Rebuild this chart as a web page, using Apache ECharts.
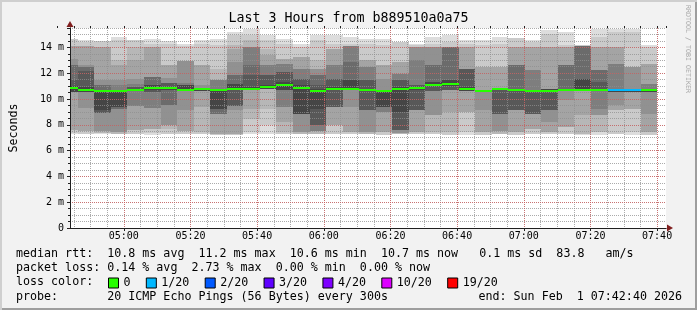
<!DOCTYPE html>
<html><head><meta charset="utf-8">
<script src="https://cdn.jsdelivr.net/npm/echarts@6/dist/echarts.min.js"></script>
<style>
html,body{margin:0;padding:0;background:#f2f2f2;}
#wrap{position:relative;width:697px;height:310px;overflow:hidden;}
#chart{position:absolute;left:0;top:0;width:697px;height:310px;}
.b{position:absolute;pointer-events:none;}
</style></head><body>
<div id="wrap"><div id="chart"></div>
<div class="b" style="left:0;top:0;width:697px;height:2px;background:#cfcfcf"></div>
<div class="b" style="left:0;top:0;width:2px;height:310px;background:#cfcfcf"></div>
<div class="b" style="left:695px;top:2px;width:2px;height:308px;background:#9e9e9e"></div>
<div class="b" style="left:2px;top:308px;width:695px;height:2px;background:#9e9e9e"></div>
</div>
<script>
// ---- data ----
const titleText = 'Last 3 Hours from b889510a0a75';
const startTime = '04:42:40';
const endTime = '07:42:40';
const gridStartTime = '04:40';
const timeLabels = ['04:45','04:50','04:55','05:00','05:05','05:10','05:15','05:20','05:25','05:30','05:35','05:40',
  '05:45','05:50','05:55','06:00','06:05','06:10','06:15','06:20','06:25','06:30','06:35','06:40',
  '06:45','06:50','06:55','07:00','07:05','07:10','07:15','07:20','07:25','07:30','07:35','07:40'];
// 20 sorted ping times (ms) per 5-minute step
const pings = [
 [7.25,7.40,7.58,7.58,10.55,10.55,10.55,10.55,10.55,10.75,10.95,11.01,11.45,12.66,12.66,13.12,14.10,14.10,14.67,14.67],
 [7.32,7.32,7.50,7.50,9.31,10.55,10.55,10.55,10.55,10.63,10.73,10.93,12.14,12.48,12.48,12.66,14.10,14.10,14.41,14.54],
 [7.25,7.40,7.40,7.50,7.50,8.95,8.95,8.95,9.13,10.57,10.67,10.67,10.67,11.06,11.06,11.45,14.03,14.03,14.46,14.46],
 [7.25,7.32,7.32,7.45,7.45,9.26,9.26,9.39,9.39,10.57,10.67,10.67,10.67,10.67,11.06,11.45,12.61,12.99,14.54,14.80],
 [7.25,7.25,7.58,7.58,9.46,9.46,10.60,10.60,10.60,10.68,10.78,10.80,10.93,10.93,11.19,11.58,12.99,14.03,14.54,14.54],
 [7.20,7.40,7.66,7.66,9.31,9.31,10.55,10.55,10.70,10.78,10.88,11.06,11.06,11.71,11.71,11.71,14.03,14.03,14.28,14.62],
 [7.32,7.32,7.66,8.02,8.02,9.52,9.52,10.73,10.73,10.78,10.88,10.88,11.27,11.27,11.27,11.63,12.66,12.66,14.28,14.46],
 [7.32,7.32,7.50,7.50,9.13,10.60,10.60,10.60,10.60,10.65,10.75,11.06,11.06,11.06,11.27,12.92,12.92,12.92,14.10,14.28],
 [7.25,7.25,7.45,9.39,10.65,10.65,10.65,10.65,10.65,10.70,10.80,10.86,10.86,10.86,10.86,11.06,12.61,12.61,14.28,14.54],
 [7.20,7.20,7.32,7.32,8.87,8.87,8.87,9.26,9.26,10.63,10.75,10.75,10.75,10.75,11.45,11.45,11.45,12.35,14.15,14.67],
 [7.20,7.20,7.32,7.32,9.13,9.46,9.46,9.46,10.68,10.72,10.83,11.19,11.19,11.84,11.84,12.87,13.90,14.15,14.98,15.19],
 [7.25,7.45,8.43,9.26,10.68,10.68,10.68,10.68,10.68,10.72,10.83,10.90,11.84,12.61,14.03,14.03,14.03,14.54,14.98,15.44],
 [7.32,7.97,9.26,10.75,10.75,10.75,10.75,10.75,10.75,10.86,10.96,11.06,11.84,11.84,12.61,12.61,13.38,13.90,14.54,14.93],
 [7.25,7.25,7.45,8.23,9.39,9.39,10.68,10.68,10.68,11.05,11.17,11.32,12.09,12.09,12.74,12.74,13.12,13.12,14.28,14.67],
 [7.25,7.25,7.25,7.45,7.45,8.87,8.87,8.87,8.87,10.80,10.91,11.06,11.58,11.58,12.35,12.35,13.25,13.25,14.03,14.28],
 [7.25,7.25,7.25,7.50,7.50,7.50,7.97,7.97,9.26,10.60,10.70,10.80,11.06,11.84,11.84,12.35,12.35,12.99,14.54,14.93],
 [7.32,7.32,7.97,7.97,9.39,9.39,9.39,9.39,10.68,10.75,10.85,10.90,11.58,11.58,12.61,12.61,13.90,13.90,14.28,14.93],
 [7.25,7.25,7.45,7.45,9.39,10.68,10.68,10.68,10.68,10.72,10.83,11.45,11.45,12.87,14.10,14.10,14.10,14.10,14.28,14.80],
 [7.25,7.25,7.25,7.45,7.45,9.13,9.13,9.13,10.60,10.65,10.75,10.78,11.45,11.45,12.48,12.48,12.99,12.99,14.28,14.67],
 [7.20,7.20,7.45,7.45,9.00,9.00,9.39,9.39,9.39,10.60,10.70,10.72,10.72,10.72,10.72,11.58,12.61,12.61,14.15,14.67],
 [7.25,7.25,7.25,7.40,7.40,7.58,7.58,7.58,9.00,10.75,10.85,10.93,11.45,11.45,11.96,11.96,12.87,12.87,14.41,14.41],
 [7.32,7.32,7.45,7.45,9.13,9.13,9.13,9.13,10.73,10.78,10.88,10.91,11.06,11.06,12.99,14.03,14.03,14.03,14.15,14.28],
 [7.25,7.25,7.45,8.74,8.74,10.60,10.60,10.60,11.01,11.05,11.17,11.32,11.32,12.61,12.61,14.03,14.03,14.03,14.28,14.80],
 [7.20,7.20,7.45,9.00,10.68,10.68,10.68,10.68,11.01,11.08,11.20,11.45,11.45,14.03,14.03,14.03,14.03,14.03,14.41,14.93],
 [7.20,7.45,9.00,9.00,10.65,10.65,10.65,10.65,10.65,10.72,10.83,10.93,12.35,12.35,12.35,12.35,14.03,14.03,14.28,14.54],
 [7.20,7.20,7.45,7.45,9.13,10.55,10.55,10.55,10.55,10.60,10.70,10.70,10.70,10.70,10.70,10.70,12.48,12.48,14.15,14.54],
 [7.25,7.25,7.25,7.50,7.50,8.87,8.87,8.87,10.68,10.72,10.83,10.85,10.85,10.85,10.85,10.85,12.48,12.48,14.28,14.80],
 [7.20,7.20,7.45,7.45,9.13,9.13,9.13,9.13,10.60,10.68,10.78,10.80,10.80,12.61,12.61,12.61,14.03,14.03,14.72,14.72],
 [7.32,7.32,7.71,7.71,8.87,8.87,8.87,8.87,10.55,10.58,10.67,10.70,10.70,10.70,12.22,12.22,14.03,14.03,14.41,14.54],
 [7.25,7.25,7.45,7.45,8.23,9.13,9.13,9.13,10.55,10.58,10.67,10.80,10.80,10.80,10.80,10.80,14.03,14.03,15.06,15.31],
 [7.25,7.32,7.84,7.84,9.90,10.60,10.60,10.60,10.60,10.65,10.75,10.78,10.78,12.61,12.61,12.61,14.03,14.03,14.15,15.19],
 [7.20,7.25,7.25,8.74,10.60,10.60,10.60,10.60,10.60,10.65,10.75,11.58,11.58,14.10,14.10,14.10,14.10,14.10,14.21,14.21],
 [7.20,7.45,7.45,8.74,8.74,9.26,10.60,10.60,10.60,10.65,10.75,10.78,11.32,12.22,12.22,12.22,14.03,14.03,14.80,15.44],
 [7.25,7.32,9.13,9.13,9.57,10.55,10.55,10.55,10.55,10.60,10.75,10.78,10.78,10.78,12.74,12.74,14.03,14.03,15.19,15.44],
 [7.20,7.45,9.26,9.26,10.55,10.55,10.55,10.55,10.55,10.60,10.75,10.78,10.78,10.78,10.78,12.48,12.48,12.48,15.19,15.44],
 [7.20,7.20,7.45,7.45,8.87,10.55,10.55,10.55,10.55,10.60,10.75,10.78,10.78,10.78,11.19,11.19,12.74,12.74,14.03,14.15]
];
const medians = [10.86,10.68,10.62,10.62,10.73,10.83,10.83,10.70,10.75,10.70,10.78,10.78,10.91,11.11,10.86,10.65,10.80,10.78,
  10.70,10.65,10.80,10.83,11.11,11.14,10.78,10.65,10.78,10.73,10.62,10.62,10.70,10.70,10.70,10.68,10.68,10.68];
const losses = [0,0,0,0,0,0,0,0,0,0,0,0,0,0,0,0,0,0,0,0,0,0,0,0,0,0,0,0,0,0,0,0,0,1,1,0];
const lossLevels = [0,1,2,3,4,10,19];
const lossLabels = ['0','1/20','2/20','3/20','4/20','10/20','19/20'];
const lossColors = ['#26ff00','#00b8ff','#0059ff','#5e00ff','#7e00ff','#dd00ff','#ff0000'];
const yTicks = [0,2,4,6,8,10,12,14];
const statsLine1 = 'median rtt:  10.8 ms avg  11.2 ms max  10.6 ms min  10.7 ms now   0.1 ms sd  83.8   am/s';
const statsLine2 = 'packet loss: 0.14 % avg  2.73 % max  0.00 % min  0.00 % now';
const lossLine = 'loss color:';
const probeLine = 'probe:       20 ICMP Echo Pings (56 Bytes) every 300s';
const endLine = 'end: Sun Feb  1 07:42:40 2026';
const watermark = 'RRDTOOL / TOBI OETIKER';

// ---- helpers ----
const STEP = 5; // minutes per probe step
function toMin(s) { const p = s.split(':').map(Number); return p[0] * 60 + p[1] + (p[2] || 0) / 60; }
const xMin = toMin(startTime), xMax = toMin(endTime), gMin = toMin(gridStartTime);
const pad = n => (n < 10 ? '0' : '') + n;
const fmtMin = v => pad(Math.floor(v / 60)) + ':' + pad(Math.round(v % 60));
const MONO = '"DejaVu Sans Mono", monospace';
const smokeGrays = ['#dddddd','#cacaca','#b7b7b7','#a4a4a4','#919191','#7e7e7e','#6b6b6b','#585858','#454545','#323232'];
const minorGrid = 'rgba(143,143,143,0.75)';
const majorGrid = 'rgba(222,79,79,0.6)';

function levelIndex(l) { let idx = 0; lossLevels.forEach((lv, i) => { if (l >= lv) idx = i; }); return idx; }

const smokeData = timeLabels.map((t, i) => [toMin(t) - STEP, toMin(t)].concat(pings[i]));
function colX(api, t) { return Math.round(api.coord([Math.max(t, xMin), 0])[0]); }

const smokeSeries = {
  type: 'custom', name: 'smoke', z: 2, silent: true, xAxisIndex: 0, yAxisIndex: 0,
  data: smokeData,
  encode: { x: [0, 1], y: [2] },
  renderItem(params, api) {
    const x0 = colX(api, api.value(0)), x1 = colX(api, api.value(1));
    const children = [];
    for (let k = 0; k < 10; k++) {
      const lo = api.value(2 + k), hi = api.value(21 - k);
      const y0 = Math.round(api.coord([xMin, lo])[1]);
      const y1 = Math.round(api.coord([xMin, hi])[1]);
      if (y0 - y1 <= 0) continue;
      children.push({ type: 'rect', shape: { x: x0, y: y1, width: x1 - x0, height: y0 - y1 },
        style: { fill: smokeGrays[k] } });
    }
    return { type: 'group', children };
  }
};

const medianSeries = lossLabels.map((name, li) => ({
  type: 'custom', name, z: 10, silent: true, xAxisIndex: 0, yAxisIndex: 0,
  itemStyle: { color: lossColors[li] },
  data: timeLabels.map((t, i) => [toMin(t) - STEP, toMin(t), medians[i], levelIndex(losses[i])])
    .filter(d => d[3] === li),
  encode: { x: [0, 1], y: [2] },
  renderItem(params, api) {
    const x0 = colX(api, api.value(0)), x1 = colX(api, api.value(1));
    const y = Math.round(api.coord([xMin, api.value(2)])[1]);
    return { type: 'rect', shape: { x: x0, y: y - 1, width: x1 - x0, height: 2 },
      style: { fill: lossColors[li] } };
  }
}));

const chart = echarts.init(document.getElementById('chart'), null, { renderer: 'canvas' });
const axisFont = { fontFamily: MONO, fontSize: 10, color: '#000' };
const PXPM = 600 / (xMax - xMin);
const gridB_left = 66 - (xMin - gMin) * PXPM;
chart.setOption({
  backgroundColor: 'transparent',
  animation: false,
  title: { text: titleText, left: 'center', top: 12, padding: 0,
    textStyle: { fontFamily: MONO, fontSize: 13.3, fontWeight: 'normal', color: '#000' } },
  grid: [
    { left: 66, right: 31, top: 28, bottom: 82, show: true, backgroundColor: '#ffffff', borderWidth: 0 },
    { left: gridB_left, right: 31, top: 28, bottom: 82, show: false }
  ],
  legend: {
    left: 108, top: 277, padding: 0, itemWidth: 10, itemHeight: 10, itemGap: 15.3, icon: 'rect',
    selectedMode: false, data: lossLabels,
    itemStyle: { borderColor: '#000', borderWidth: 1 },
    textStyle: { fontFamily: MONO, fontSize: 11.67, color: '#000', padding: 0 }
  },
  xAxis: [
    { gridIndex: 0, type: 'value', min: xMin, max: xMax, z: 8,
      axisLine: { show: true, lineStyle: { color: '#1f1f1f', width: 1 } },
      axisTick: { show: false }, axisLabel: { show: false }, splitLine: { show: false } },
    { gridIndex: 0, type: 'value', min: xMin, max: xMax, z: 7.5,
      axisLine: { show: true, symbol: ['none', 'triangle'], symbolSize: [7, 6], symbolOffset: [0, 4],
        lineStyle: { color: '#801f1f', width: 1 } },
      axisTick: { show: false }, axisLabel: { show: false }, splitLine: { show: false } },
    { gridIndex: 1, type: 'value', min: gMin, max: xMax, interval: 20, z: 7,
      axisLine: { show: false },
      axisTick: { show: true, length: 3, lineStyle: { color: '#1f1f1f' } },
      axisLabel: { margin: 3, ...axisFont, showMinLabel: false, showMaxLabel: false, hideOverlap: false,
        formatter: v => (Math.abs(v % 20) < 1e-6 && v > xMin && v < xMax ? fmtMin(v) : '') },
      splitLine: { show: true, showMinLine: false, showMaxLine: false, lineStyle: { color: majorGrid, type: [1, 1], width: 1 } } },
    { gridIndex: 1, type: 'value', min: gMin, max: xMax, interval: STEP, z: 6,
      axisLine: { show: false },
      axisTick: { show: true, length: 2, lineStyle: { color: '#1f1f1f' } },
      axisLabel: { show: false },
      splitLine: { show: true, showMinLine: false, showMaxLine: false, lineStyle: { color: minorGrid, type: [1, 1], width: 1 } } }
  ],
  yAxis: [
    { gridIndex: 0, type: 'value', min: 0, max: 15.5, interval: 2, z: 7,
      name: 'Seconds', nameLocation: 'middle', nameGap: 50, nameRotate: 90,
      nameTextStyle: { fontFamily: MONO, fontSize: 11.67, color: '#000' },
      axisLine: { show: true, lineStyle: { color: '#1f1f1f', width: 1 } },
      axisTick: { show: true, length: 3, lineStyle: { color: '#1f1f1f' } },
      axisLabel: { margin: 6, ...axisFont,
        formatter: v => (yTicks.indexOf(v) < 0 ? '' : (v === 0 ? '0' : v + ' m')) },
      splitLine: { show: true, showMinLine: false, showMaxLine: false, lineStyle: { color: majorGrid, type: [1, 1], width: 1 } } },
    { gridIndex: 0, type: 'value', min: 0, max: 15.5, interval: 0.5, z: 6, position: 'left',
      axisLine: { show: true, symbol: ['none', 'triangle'], symbolSize: [7, 6], symbolOffset: [0, 4],
        lineStyle: { color: '#801f1f', width: 1 } },
      axisTick: { show: true, length: 2, lineStyle: { color: '#1f1f1f' } },
      axisLabel: { show: false },
      splitLine: { show: true, showMinLine: false, lineStyle: { color: minorGrid, type: [1, 1], width: 1 } } },
    { gridIndex: 1, type: 'value', min: 0, max: 15.5, show: false }
  ],
  graphic: [
    { type: 'text', x: 16, y: 254, style: { text: statsLine1, font: '11.67px ' + MONO, fill: '#000', verticalAlign: 'middle' } },
    { type: 'text', x: 16, y: 268, style: { text: statsLine2, font: '11.67px ' + MONO, fill: '#000', verticalAlign: 'middle' } },
    { type: 'text', x: 16, y: 282, style: { text: lossLine, font: '11.67px ' + MONO, fill: '#000', verticalAlign: 'middle' } },
    { type: 'text', x: 16, y: 297, style: { text: probeLine, font: '11.67px ' + MONO, fill: '#000', verticalAlign: 'middle' } },
    { type: 'text', x: 682, y: 297, style: { text: endLine, font: '11.67px ' + MONO, fill: '#000', align: 'right', verticalAlign: 'middle' } },
    { type: 'text', x: 688, y: 5, rotation: -Math.PI / 2,
      style: { text: watermark, font: '6.65px ' + MONO, fill: '#a8a8a8', align: 'left', verticalAlign: 'middle' } }
  ],
  series: [smokeSeries].concat(medianSeries)
});
</script>
</body></html>
